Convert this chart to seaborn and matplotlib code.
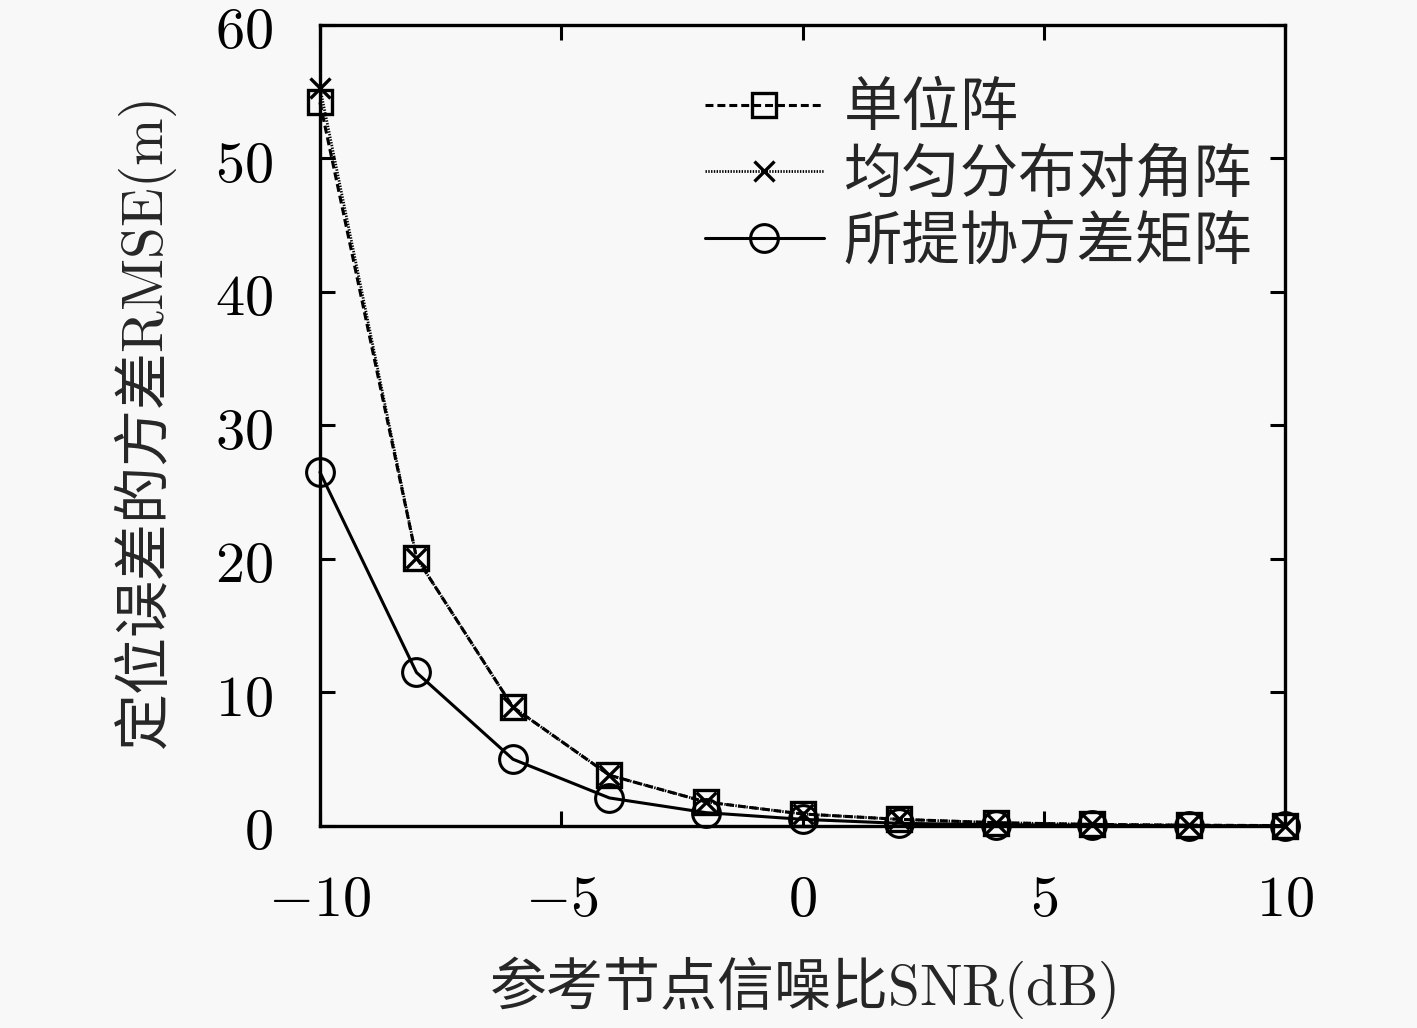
import numpy as np
import pandas as pd
import matplotlib
matplotlib.use("Agg")
import matplotlib.pyplot as plt
import seaborn as sns
from matplotlib.ticker import FuncFormatter, MultipleLocator

snr = [-10, -8, -6, -4, -2, 0, 2, 4, 6, 8, 10]
unit_matrix = [54.2, 20.1, 8.9, 3.8, 1.8, 0.9, 0.5, 0.25, 0.12, 0.06, 0.03]
uniform_diag = [55.3, 20.1, 8.9, 3.8, 1.8, 0.9, 0.5, 0.25, 0.12, 0.06, 0.03]
proposed = [26.5, 11.5, 5.0, 2.1, 1.0, 0.5, 0.2, 0.1, 0.05, 0.02, 0.01]
labels = ["单位阵", "均匀分布对角阵", "所提协方差矩阵"]
x_label = "参考节点信噪比$\\mathrm{SNR(dB)}$"
y_label = "定位误差的方差$\\mathrm{RMSE(m)}$"

sns.set_theme(style="ticks")
plt.rcParams['font.family'] = ['Noto Sans CJK SC', 'DejaVu Sans']
plt.rcParams['mathtext.fontset'] = 'cm'
plt.rcParams['axes.unicode_minus'] = True

fig = plt.figure(figsize=(14.17, 10.28), dpi=100)
fig.patch.set_facecolor('#f8f8f8')
ax = fig.add_axes([0.2258, 0.1965, 0.6811, 0.7792])
ax.set_facecolor('#f8f8f8')

sns.lineplot(x=snr, y=unit_matrix, ax=ax, color='black', linestyle=(0, (2.6, 1.3)),
             linewidth=2.2, marker='s', markersize=17, markerfacecolor='none',
             markeredgecolor='black', markeredgewidth=2.4, label=labels[0],
             clip_on=False, zorder=3)
sns.lineplot(x=snr, y=uniform_diag, ax=ax, color='black', linestyle=(0, (0.5, 0.5)),
             linewidth=2.0, marker='x', markersize=15, markeredgecolor='black',
             markeredgewidth=2.4, label=labels[1], clip_on=False, zorder=3)
sns.lineplot(x=snr, y=proposed, ax=ax, color='black', linestyle='-',
             linewidth=2.2, marker='o', markersize=20, markerfacecolor='none',
             markeredgecolor='black', markeredgewidth=2.2, label=labels[2],
             clip_on=False, zorder=3)

ax.set_xlim(-10, 10)
ax.set_ylim(0, 60)
ax.xaxis.set_major_locator(MultipleLocator(5))
ax.yaxis.set_major_locator(MultipleLocator(10))
fmt = FuncFormatter(lambda v, p: "$%d$" % int(round(v)))
ax.xaxis.set_major_formatter(fmt)
ax.yaxis.set_major_formatter(fmt)
ax.tick_params(direction='in', length=11, width=2.2, top=True, right=True,
               labelsize=42, colors='black')
ax.tick_params(axis='x', pad=31)
ax.tick_params(axis='y', pad=34)
for s in ax.spines.values():
    s.set_linewidth(2.4)
    s.set_color('black')
    s.set_visible(True)
ax.set_xlabel(x_label, fontsize=41, labelpad=18)
ax.set_ylabel(y_label, fontsize=41, labelpad=26)

leg = ax.legend(loc='upper right', frameon=False, fontsize=42, handlelength=2.05,
                handletextpad=0.33, labelspacing=0.1, borderaxespad=0.0,
                bbox_to_anchor=(0.99, 0.963))

fig.savefig("out.png", dpi=100, facecolor=fig.get_facecolor())
